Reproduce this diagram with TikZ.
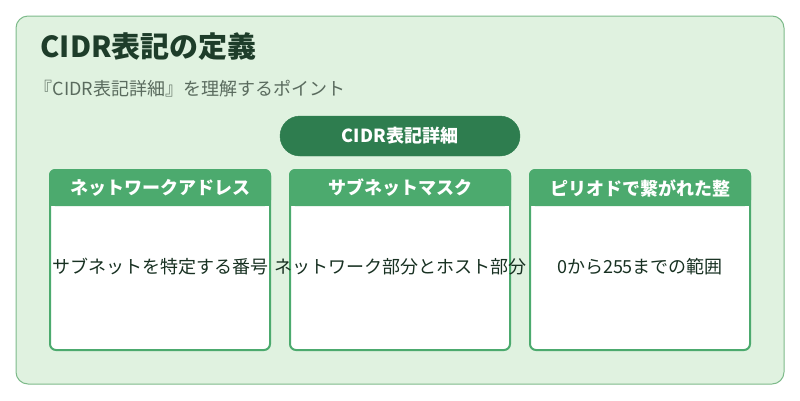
\documentclass[tikz,border=0pt]{standalone}
\usepackage{fontspec}
\setmainfont{Noto Sans CJK JP}
\definecolor{bgpanel}{HTML}{E0F2E0}
\definecolor{edgegreen}{HTML}{7DBA8A}
\definecolor{titlegreen}{HTML}{1E3D2A}
\definecolor{pillgreen}{HTML}{2E7D4F}
\definecolor{headgreen}{HTML}{4CAA6E}
\definecolor{subgray}{HTML}{5A6B5E}
\begin{document}
\begin{tikzpicture}[x=1pt,y=-1pt,
    card/.style={draw=headgreen,line width=2pt,fill=white,rounded corners=6pt},
    head/.style={font=\fontsize{18}{20}\selectfont\bfseries,text=white},
    body/.style={font=\fontsize{18}{20}\selectfont,text=titlegreen!80!black}]
        	\useasboundingbox (0,0) rectangle (800,400);
        	\filldraw[draw=edgegreen,fill=bgpanel,line width=1pt,rounded corners=12pt]
        	  (16,16) rectangle (784,384);
        	\node[anchor=west,font=\fontsize{29}{32}\selectfont\bfseries,text=titlegreen] (title) at (37,47) {CIDR表記の定義};
        	\node[anchor=west,font=\fontsize{18}{20}\selectfont,text=subgray] (subtitle) at (31,89) {『CIDR表記詳細』を理解するポイント};
        	\filldraw[fill=pillgreen,draw=pillgreen,rounded corners=20pt] (280,116) rectangle (520,156);
        	\node[head] (pill) at (400,136) {CIDR表記詳細};

        	\foreach \x/\h/\b [count=\i] in {50/ネットワークアドレス/サブネットを特定する番号,
        	    290/サブネットマスク/ネットワーク部分とホスト部分,
        	    530/ピリオドで繋がれた整/0から255までの範囲} {
        		\draw[card] (\x,170) rectangle (\x+220,350);
        		\fill[headgreen,rounded corners=6pt] (\x-1,169) rectangle (\x+221,206);
        		\fill[headgreen] (\x-1,190) rectangle (\x+221,206);
        		\node[head] (head\i) at (\x+110,188) {\h};
        		\node[body] (body\i) at (\x+110,267) {\b};
        	};
        \end{tikzpicture}
\end{document}
